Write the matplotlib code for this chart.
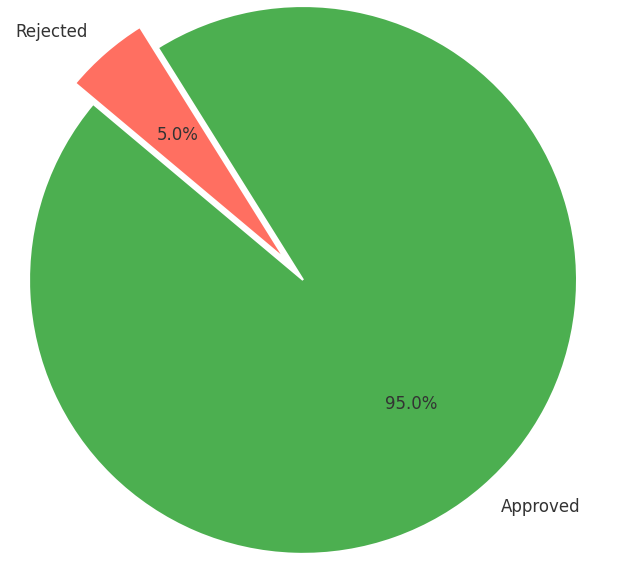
import matplotlib
matplotlib.use("Agg")
import matplotlib.pyplot as plt

labels = ["Approved", "Rejected"]
shares = [95, 5]
colors = ["#4CAF50", "#FF6F61"]
explode = [0, 0.1]

fig = plt.figure(figsize=(6.28, 5.61), dpi=100)
ax = fig.add_axes([0, 0, 1, 1])
ax.pie(shares, labels=labels, colors=colors, explode=explode, startangle=140,
       autopct="%1.1f%%", wedgeprops=dict(edgecolor="white", linewidth=1.5),
       textprops=dict(color="#333333", fontsize=12))
ax.set_aspect("auto")
ax.set_xlim(-1.106, 1.186)
ax.set_ylim(-1.026, 1.022)
ax.axis("off")
fig.savefig("out.png", dpi=100)
